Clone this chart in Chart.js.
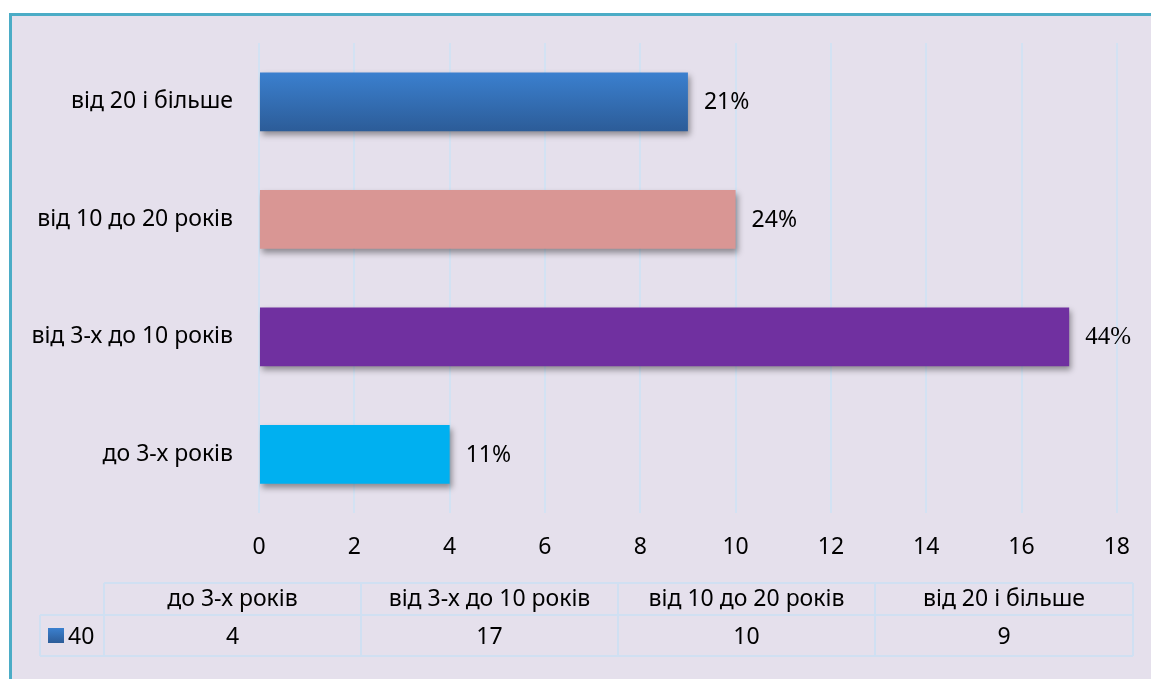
<!DOCTYPE html>
<html>
<head>
<meta charset="utf-8">
<script src="https://cdn.jsdelivr.net/npm/chart.js@4"></script>
<style>
  body { margin: 0; background: #fff; }
  #frame {
    position: absolute; left: 9px; top: 13px; width: 1160px; height: 690px;
    background: #E5E0EC; border-left: 3px solid #4BACC6; border-top: 3px solid #4BACC6;
  }
  #chart { position: absolute; left: 0; top: 0; }
</style>
</head>
<body>
<div id="frame"></div>
<canvas id="chart" width="1151" height="679"></canvas>
<script>
// дані діаграми
const categories = ["до 3-х років", "від 3-х до 10 років", "від 10 до 20 років", "від 20 і більше"];
const values = [4, 17, 10, 9];
const percentLabels = ["11%", "44%", "24%", "21%"];
const seriesName = "40";

const barColors = ["#00B0F0", "#7030A0", "#D99694", null];
const FONT = "'Noto Sans', 'Open Sans', sans-serif";

// градієнт для верхнього стовпця
const barFill = (c) => {
  const i = c.dataIndex;
  if (barColors[i]) return barColors[i];
  const chart = c.chart;
  const area = chart.chartArea;
  if (!area) return "#3672BA";
  const y = chart.scales.y.getPixelForValue(i);
  const half = area.height / categories.length / 4;
  const g = chart.ctx.createLinearGradient(0, y - half, 0, y + half);
  g.addColorStop(0, "#3B80CF");
  g.addColorStop(1, "#2C5C98");
  return g;
};

const extras = {
  id: "extras",
  beforeDatasetsDraw(chart) {
    const ctx = chart.ctx;
    ctx.save();
    ctx.shadowColor = "rgba(0,0,0,0.38)";
    ctx.shadowOffsetX = 2;
    ctx.shadowOffsetY = 4;
    ctx.shadowBlur = 6;
  },
  afterDatasetsDraw(chart) {
    const ctx = chart.ctx;
    ctx.restore();

    // підписи відсотків
    const meta = chart.getDatasetMeta(0);
    ctx.save();
    ctx.fillStyle = "#000";
    ctx.textBaseline = "middle";
    ctx.textAlign = "left";
    meta.data.forEach((bar, i) => {
      ctx.font = i === 1 ? "25px 'Liberation Serif', serif" : "23px " + FONT;
      ctx.fillText(percentLabels[i], bar.x + 16, bar.y + 1);
    });
    ctx.restore();

    // таблиця даних
    const cols = [40, 104, 361, 618, 875, 1133];
    const rowTop = 583, rowMid = 615, rowBot = 656;
    ctx.save();
    ctx.strokeStyle = "#D0E0F2";
    ctx.lineWidth = 2;
    ctx.beginPath();
    ctx.moveTo(cols[1], rowTop); ctx.lineTo(cols[5], rowTop);
    ctx.moveTo(cols[0], rowMid); ctx.lineTo(cols[5], rowMid);
    ctx.moveTo(cols[0], rowBot); ctx.lineTo(cols[5], rowBot);
    ctx.moveTo(cols[0], rowMid); ctx.lineTo(cols[0], rowBot);
    for (let k = 1; k < cols.length; k++) {
      ctx.moveTo(cols[k], rowTop); ctx.lineTo(cols[k], rowBot);
    }
    ctx.stroke();

    ctx.fillStyle = "#000";
    ctx.font = "23px " + FONT;
    ctx.textAlign = "center";
    ctx.textBaseline = "middle";
    categories.forEach((c, i) => {
      const cx = (cols[i + 1] + cols[i + 2]) / 2;
      ctx.fillText(c, cx, 599);
      ctx.fillText(String(values[i]), cx, 637);
    });

    const g = ctx.createLinearGradient(0, 628, 0, 643);
    g.addColorStop(0, "#3B80CF");
    g.addColorStop(1, "#2C5C98");
    ctx.fillStyle = g;
    ctx.fillRect(48, 628, 16, 15);
    ctx.fillStyle = "#000";
    ctx.textAlign = "left";
    ctx.fillText(seriesName, 68, 637);
    ctx.restore();
  }
};

new Chart(document.getElementById("chart"), {
  type: "bar",
  data: {
    labels: categories,
    datasets: [{
      label: seriesName,
      data: values,
      backgroundColor: barFill,
      borderWidth: 0,
      categoryPercentage: 0.5,
      barPercentage: 1
    }]
  },
  options: {
    indexAxis: "y",
    responsive: false,
    animation: false,
    layout: { padding: { left: 0, top: 43, right: 31, bottom: 0 } },
    plugins: { legend: { display: false }, tooltip: { enabled: false } },
    scales: {
      x: {
        min: 0,
        max: 18,
        ticks: { stepSize: 2, color: "#000", padding: 21, font: { family: FONT, size: 23 } },
        grid: { color: "#D3E2F3", lineWidth: 2, drawTicks: false },
        border: { display: false },
        afterFit: (s) => { s.height = 166; }
      },
      y: {
        reverse: true,
        ticks: { color: "#000", padding: 26, font: { family: FONT, size: 23 } },
        grid: { display: false, drawTicks: false },
        border: { display: false },
        afterFit: (s) => { s.width = 259; }
      }
    }
  },
  plugins: [extras]
});
</script>
</body>
</html>
